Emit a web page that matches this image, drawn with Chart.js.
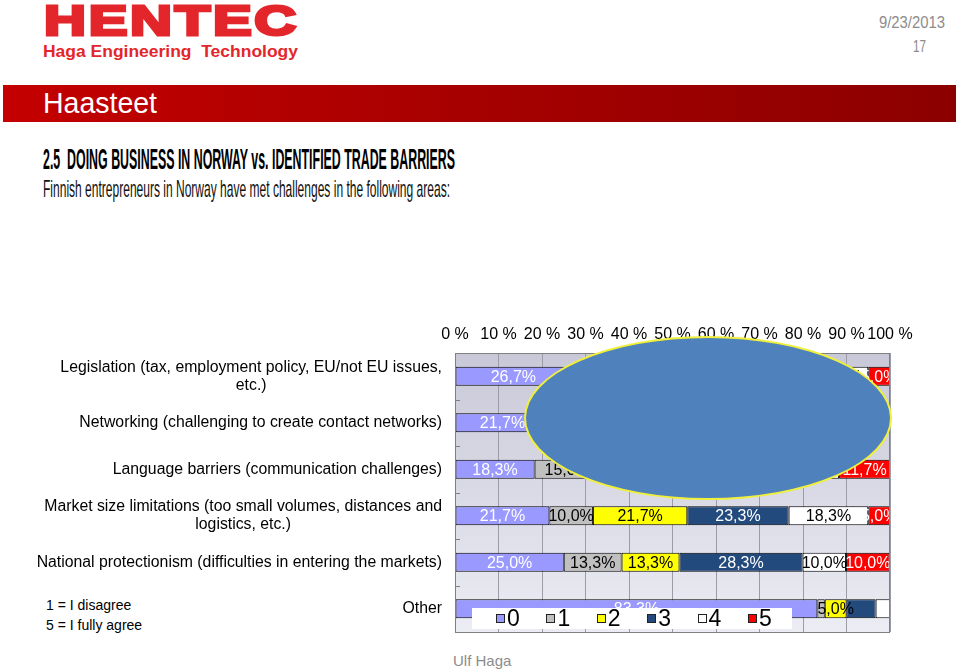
<!DOCTYPE html>
<html>
<head>
<meta charset="utf-8">
<script src="https://cdn.jsdelivr.net/npm/chart.js@4.4.0/dist/chart.umd.min.js"></script>
<style>
  html, body { margin: 0; padding: 0; background: #fff; }
  #slide { position: relative; width: 959px; height: 670px; overflow: hidden; font-family: "Liberation Sans", Arial, sans-serif; }
  .abs { position: absolute; white-space: nowrap; transform-origin: 0 0; }
  #chartWrap { position: absolute; left: 0; top: 0; width: 959px; height: 670px; }
  #band { position: absolute; left: 3px; top: 85px; width: 953px; height: 37px;
          background: linear-gradient(to right, #c40000, #a60000 50%, #8c0000); }
  #legend { position: absolute; left: 472px; top: 608px; width: 320px; height: 21px; background: #fff; }
  .item { position: absolute; top: 0; height: 21px; font: 23px "Liberation Sans", Arial, sans-serif; line-height: 21px; }
  .item i { position: absolute; left: 0; top: 6px; width: 7px; height: 7px; border: 1px solid #222; }
  .item span { position: absolute; left: 11px; top: 0; }
  #blob { position: absolute; left: 524px; top: 336px; width: 364px; height: 160px; border-radius: 50%;
          background: #4f81bd; border: 2.5px solid #f0f03a; }
</style>
</head>
<body>
<div id="slide">
  <div class="abs" id="logo" style="left:44px; top:-4px; font: 900 43px 'Liberation Sans', Arial, sans-serif; color:#e3262b; -webkit-text-stroke: 3px #e3262b; letter-spacing:2px;" data-w="255">HENTEC</div>
  <div class="abs" id="logo2" style="left:43px; top:42px; font: bold 17px 'Liberation Sans', Arial, sans-serif; color:#e3262b;" data-w="255">Haga Engineering&nbsp; Technology</div>
  <div class="abs" style="left:879px; top:14px; font: 16px 'Liberation Sans Narrow', 'Liberation Sans', sans-serif; color:#8c8c8c;" data-w="66">9/23/2013</div>
  <div class="abs" style="left:913px; top:37px; font: 17px 'Liberation Sans Narrow', 'Liberation Sans', sans-serif; color:#8c8c8c;" data-w="13">17</div>
  <div id="band"></div>
  <div class="abs" style="left:43px; top:87px; font: 29px 'Liberation Sans Narrow', 'Liberation Sans', sans-serif; color:#fff;" data-w="114">Haasteet</div>
  <div class="abs" style="left:43px; top:142px; font: bold 30px 'Liberation Sans Narrow', 'Liberation Sans', sans-serif; color:#000;" data-w="412">2.5&nbsp; DOING BUSINESS IN NORWAY vs. IDENTIFIED TRADE BARRIERS</div>
  <div class="abs" style="left:43px; top:175px; font: 24px 'Liberation Sans Narrow', 'Liberation Sans', sans-serif; color:#111;" data-w="407">Finnish entrepreneurs in Norway have met challenges in the following areas:</div>
  <div class="abs" style="left:46px; top:597px; font: 14px 'Liberation Sans Narrow', 'Liberation Sans', sans-serif; color:#000;">1 = I disagree</div>
  <div class="abs" style="left:46px; top:617px; font: 14px 'Liberation Sans Narrow', 'Liberation Sans', sans-serif; color:#000;">5 = I fully agree</div>
  <div class="abs" style="left:453px; top:652px; font: 15px 'Liberation Sans Narrow', 'Liberation Sans', sans-serif; color:#8c8c8c;">Ulf Haga</div>
  <div id="chartWrap"><canvas id="myChart"></canvas></div>
  <div id="blob"></div>
  <div id="legend"></div>
</div>
<script>
const categories = [
  ["Legislation (tax, employment policy, EU/not EU issues,", "etc.)"],
  ["Networking (challenging to create contact networks)"],
  ["Language barriers (communication challenges)"],
  ["Market size limitations (too small volumes, distances and", "logistics, etc.)"],
  ["National protectionism (difficulties in entering the markets)"],
  ["Other"]
];
const seriesNames = ["0", "1", "2", "3", "4", "5"];
const s0 = [26.7, 21.7, 18.3, 21.7, 25.0, 83.3];
const s1 = [13.3, 11.7, 15.0, 10.0, 13.3, 1.7];
const s2 = [20.0, 20.0, 20.0, 21.7, 13.3, 5.0];
const s3 = [21.7, 25.0, 21.7, 23.3, 28.3, 6.7];
const s4 = [13.3, 13.3, 13.3, 18.3, 10.0, 3.3];
const s5 = [5.0, 8.3, 11.7, 5.0, 10.0, 0];
const xTicks = [0, 10, 20, 30, 40, 50, 60, 70, 80, 90, 100];

const colors = ["#9999ff", "#c0c0c0", "#ffff00", "#234a7c", "#ffffff", "#ff0000"];
const labelColors = ["#fff", "#000", "#000", "#fff", "#000", "#fff"];

const datasets = [s0, s1, s2, s3, s4, s5].map((vals, i) => ({
  label: seriesNames[i],
  data: vals,
  backgroundColor: colors[i],
  borderColor: "#000",
  borderWidth: 1,
  borderSkipped: false,
  barPercentage: 0.41,
  categoryPercentage: 1.0
}));

// plot background gradient + frame
const bgPlugin = {
  id: "plotBg",
  beforeDraw(chart) {
    const {ctx, chartArea: a} = chart;
    const g = ctx.createLinearGradient(0, a.top, 0, a.bottom);
    g.addColorStop(0, "#c8c8d8");
    g.addColorStop(1, "#ececf4");
    ctx.save();
    ctx.fillStyle = g;
    ctx.fillRect(a.left, a.top, a.right - a.left, a.bottom - a.top);
    ctx.restore();
  },
  afterDraw(chart) {
    const {ctx, chartArea: a} = chart;
    ctx.save();
    ctx.strokeStyle = "#808080";
    ctx.lineWidth = 1;
    ctx.strokeRect(a.left + 0.5, a.top + 0.5, a.right - a.left - 1, a.bottom - a.top);
    // little category marks on the left edge
    const y = chart.scales.y;
    ctx.beginPath();
    for (let i = 0; i < categories.length - 1; i++) {
      const py = Math.round((y.getPixelForValue(i) + y.getPixelForValue(i + 1)) / 2) + 0.5;
      ctx.moveTo(a.left, py);
      ctx.lineTo(a.left + 5, py);
    }
    ctx.stroke();
    ctx.restore();
  }
};

// category labels: first line right aligned, next lines centred under it
const catLabels = {
  id: "catLabels",
  afterDraw(chart) {
    const {ctx} = chart;
    const y = chart.scales.y;
    const right = chart.chartArea.left - 13;
    ctx.save();
    ctx.fillStyle = "#000";
    ctx.font = "15.8px 'Liberation Sans', Arial, sans-serif";
    ctx.textBaseline = "middle";
    categories.forEach((lines, i) => {
      const cy = y.getPixelForValue(i);
      const lh = 18;
      const y0 = cy - (lines.length - 1) * lh / 2;
      const w0 = ctx.measureText(lines[0]).width;
      lines.forEach((ln, j) => {
        if (j === 0) {
          ctx.textAlign = "right";
          ctx.fillText(ln, right, y0);
        } else {
          ctx.textAlign = "center";
          ctx.fillText(ln, right - w0 / 2, y0 + j * lh);
        }
      });
    });
    ctx.restore();
  }
};

// value labels in the segments (the tiny ones and the misplaced 6,7% are not shown)
const valueLabels = {
  id: "valueLabels",
  afterDatasetsDraw(chart) {
    const {ctx, chartArea: a} = chart;
    ctx.save();
    ctx.beginPath();
    ctx.rect(a.left, a.top, a.right - a.left, a.bottom - a.top);
    ctx.clip();
    ctx.font = "16px 'Liberation Sans', Arial, sans-serif";
    ctx.textAlign = "center";
    ctx.textBaseline = "middle";
    chart.data.datasets.forEach((ds, i) => {
      const meta = chart.getDatasetMeta(i);
      meta.data.forEach((bar, j) => {
        const v = ds.data[j];
        if (!v || v < 4) return;
        if (j === categories.length - 1 && i === 3) return;
        const cx = (bar.base + bar.x) / 2;
        ctx.fillStyle = labelColors[i];
        ctx.fillText(v.toFixed(1).replace(".", ",") + "%", cx, bar.y + 1);
      });
    });
    ctx.restore();
  }
};

const chart = new Chart("myChart", {
  type: "bar",
  data: { labels: categories.map(c => c.join(" ")), datasets: datasets },
  plugins: [bgPlugin, catLabels, valueLabels],
  options: {
    indexAxis: "y",
    responsive: true,
    maintainAspectRatio: false,
    animation: false,
    layout: { padding: { top: 320, left: 0, right: 69, bottom: 38 } },
    plugins: { legend: { display: false }, tooltip: { enabled: false } },
    scales: {
      x: {
        position: "top",
        stacked: true,
        min: 0,
        max: 100,
        afterBuildTicks: s => { s.ticks = xTicks.map(v => ({value: v})); },
        afterFit: s => { s.height = 33; },
        grid: { color: "#9c9ca6", drawTicks: false },
        border: { display: false },
        ticks: {
          color: "#000",
          padding: 9,
          maxRotation: 0,
          minRotation: 0,
          autoSkip: false,
          font: { family: "'Liberation Sans', Arial, sans-serif", size: 16 },
          callback: v => v + " %"
        }
      },
      y: {
        stacked: true,
        afterFit: s => { s.width = 455; },
        grid: { display: false },
        border: { display: false },
        ticks: { display: false }
      }
    }
  }
});

// legend
const legend = document.getElementById("legend");
seriesNames.forEach((n, i) => {
  const d = document.createElement("div");
  d.className = "item";
  d.style.left = (24 + i * 50.4) + "px";
  d.innerHTML = '<i style="background:' + colors[i] + '"></i><span>' + n + '</span>';
  legend.appendChild(d);
});

// squeeze slide texts to the widths measured on the picture
document.querySelectorAll("[data-w]").forEach(el => {
  const w = el.getBoundingClientRect().width;
  const target = parseFloat(el.dataset.w);
  el.style.transform = "scaleX(" + (target / w) + ")";
});
</script>
</body>
</html>
